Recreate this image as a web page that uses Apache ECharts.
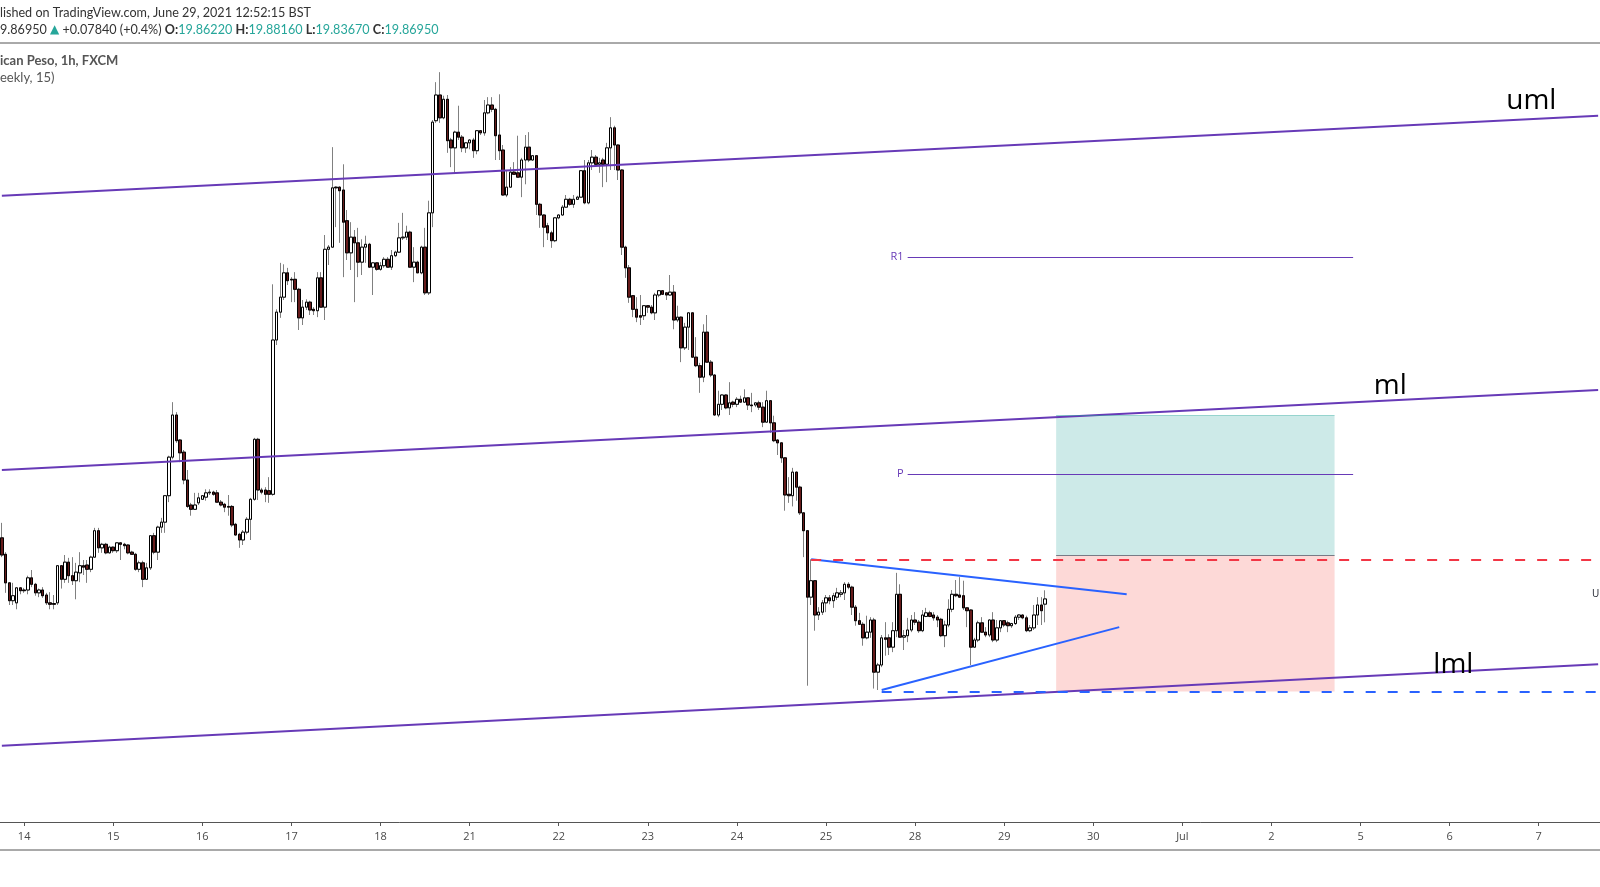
<!DOCTYPE html>
<html>
<head>
<meta charset="utf-8">
<title>USD/MXN 1h</title>
<script src="https://cdn.jsdelivr.net/npm/echarts@6/dist/echarts.min.js"></script>
<style>
  html, body { margin: 0; padding: 0; background: #fff; }
  #main { width: 1600px; height: 887px; }
</style>
</head>
<body>
<div id="main"></div>
<script>
// hourly candles, one per slot from slot 0: [open, close, low, high]
var candles = [
  [19.955,19.931,19.928,19.976],[19.932,19.892,19.878,19.935],[19.892,19.867,19.861,19.893],[19.867,19.874,19.861,19.892],
  [19.864,19.885,19.855,19.886],[19.885,19.881,19.876,19.886],[19.882,19.881,19.878,19.885],[19.882,19.899,19.876,19.902],
  [19.899,19.890,19.886,19.910],[19.890,19.878,19.874,19.892],[19.878,19.882,19.872,19.884],[19.882,19.874,19.871,19.886],
  [19.875,19.864,19.861,19.878],[19.864,19.862,19.855,19.879],[19.863,19.862,19.855,19.875],[19.864,19.916,19.861,19.917],
  [19.916,19.897,19.884,19.917],[19.897,19.921,19.892,19.931],[19.921,19.902,19.892,19.927],[19.902,19.895,19.889,19.928],
  [19.895,19.907,19.869,19.920],[19.906,19.916,19.893,19.935],[19.916,19.914,19.903,19.924],[19.917,19.911,19.892,19.924],
  [19.911,19.928,19.907,19.930],[19.928,19.965,19.927,19.969],[19.965,19.941,19.934,19.969],[19.941,19.946,19.934,19.948],
  [19.946,19.934,19.932,19.948],[19.934,19.942,19.933,19.944],[19.942,19.937,19.934,19.943],[19.937,19.948,19.934,19.949],
  [19.948,19.946,19.924,19.949],[19.946,19.944,19.939,19.948],[19.945,19.934,19.932,19.946],[19.935,19.932,19.931,19.937],
  [19.932,19.911,19.909,19.934],[19.911,19.920,19.907,19.923],[19.920,19.897,19.886,19.923],[19.897,19.913,19.896,19.920],
  [19.913,19.958,19.910,19.959],[19.958,19.935,19.932,19.962],[19.935,19.970,19.924,19.972],[19.970,19.977,19.962,19.983],
  [19.977,20.014,19.962,20.015],[20.014,20.068,20.005,20.070],[20.068,20.127,20.065,20.145],[20.127,20.091,20.088,20.131],
  [20.092,20.074,20.061,20.093],[20.075,20.036,20.030,20.078],[20.036,19.999,19.997,20.050],[20.001,19.995,19.986,20.004],
  [19.995,20.001,19.994,20.018],[20.004,20.011,20.001,20.018],[20.009,20.014,20.008,20.015],[20.012,20.018,20.007,20.023],
  [20.018,20.019,20.015,20.023],[20.019,20.016,20.014,20.021],[20.018,20.005,20.004,20.022],[20.005,20.001,19.999,20.008],
  [20.002,19.998,19.991,20.004],[19.999,19.998,19.986,20.015],[19.999,19.973,19.970,20.001],[19.974,19.959,19.958,19.976],
  [19.960,19.952,19.941,19.962],[19.952,19.963,19.945,19.966],[19.963,19.981,19.960,19.984],[19.981,20.009,19.952,20.011],
  [20.009,20.093,20.007,20.095],[20.093,20.022,20.008,20.095],[20.022,20.019,20.016,20.025],[20.022,20.016,20.005,20.026],
  [20.021,20.016,20.004,20.040],[20.016,20.232,20.014,20.310],[20.232,20.271,20.225,20.275],[20.271,20.292,20.263,20.340],
  [20.292,20.326,20.288,20.338],[20.326,20.315,20.309,20.333],[20.317,20.316,20.285,20.320],[20.317,20.303,20.285,20.327],
  [20.303,20.263,20.246,20.305],[20.263,20.278,20.253,20.288],[20.278,20.285,20.274,20.289],[20.285,20.274,20.267,20.287],
  [20.275,20.273,20.267,20.278],[20.273,20.319,20.264,20.327],[20.319,20.278,20.277,20.327],[20.278,20.359,20.260,20.379],
  [20.359,20.362,20.337,20.365],[20.362,20.445,20.361,20.502],[20.446,20.445,20.390,20.447],[20.446,20.441,20.368,20.447],
  [20.442,20.397,20.320,20.478],[20.399,20.354,20.344,20.414],[20.354,20.376,20.330,20.397],[20.376,20.368,20.285,20.386],
  [20.368,20.341,20.320,20.389],[20.341,20.362,20.323,20.373],[20.362,20.366,20.340,20.378],[20.366,20.334,20.333,20.368],
  [20.334,20.340,20.295,20.341],[20.340,20.331,20.329,20.341],[20.331,20.336,20.329,20.341],[20.336,20.345,20.333,20.348],
  [20.345,20.334,20.333,20.348],[20.334,20.350,20.330,20.358],[20.350,20.355,20.348,20.357],[20.355,20.375,20.354,20.396],
  [20.375,20.376,20.372,20.410],[20.376,20.383,20.372,20.392],[20.383,20.334,20.333,20.385],[20.334,20.341,20.313,20.362],
  [20.341,20.326,20.326,20.343],[20.326,20.362,20.324,20.364],[20.362,20.298,20.295,20.389],[20.298,20.410,20.295,20.427],
  [20.410,20.537,20.390,20.540],[20.539,20.575,20.536,20.593],[20.575,20.543,20.536,20.607],[20.543,20.569,20.541,20.574],
  [20.569,20.511,20.494,20.575],[20.512,20.501,20.474,20.515],[20.501,20.523,20.466,20.525],[20.523,20.516,20.512,20.560],
  [20.516,20.501,20.495,20.519],[20.501,20.508,20.494,20.509],[20.508,20.512,20.499,20.513],[20.512,20.497,20.487,20.515],
  [20.497,20.525,20.492,20.526],[20.525,20.522,20.519,20.526],[20.522,20.550,20.518,20.568],[20.550,20.561,20.548,20.572],
  [20.561,20.555,20.551,20.572],[20.555,20.518,20.484,20.557],[20.519,20.497,20.484,20.576],[20.498,20.435,20.434,20.505],
  [20.435,20.446,20.432,20.470],[20.446,20.467,20.445,20.474],[20.467,20.464,20.463,20.481],[20.466,20.460,20.459,20.518],
  [20.460,20.484,20.432,20.487],[20.484,20.502,20.450,20.519],[20.502,20.484,20.481,20.523],[20.484,20.490,20.483,20.491],
  [20.490,20.422,20.407,20.491],[20.422,20.407,20.389,20.424],[20.407,20.390,20.362,20.408],[20.392,20.382,20.372,20.396],
  [20.382,20.371,20.361,20.385],[20.371,20.403,20.369,20.404],[20.403,20.407,20.401,20.408],[20.407,20.418,20.406,20.421],
  [20.418,20.429,20.417,20.435],[20.429,20.422,20.420,20.431],[20.422,20.429,20.417,20.435],[20.429,20.432,20.428,20.434],
  [20.432,20.469,20.431,20.470],[20.469,20.424,20.422,20.484],[20.424,20.480,20.422,20.484],[20.480,20.488,20.470,20.498],
  [20.488,20.478,20.477,20.491],[20.478,20.480,20.466,20.487],[20.484,20.478,20.446,20.487],[20.478,20.501,20.453,20.508],
  [20.501,20.529,20.470,20.544],[20.529,20.505,20.470,20.532],[20.505,20.470,20.456,20.506],[20.470,20.362,20.351,20.471],
  [20.362,20.333,20.319,20.364],[20.333,20.292,20.284,20.337],[20.294,20.275,20.264,20.295],[20.275,20.264,20.257,20.292],
  [20.266,20.264,20.253,20.295],[20.266,20.280,20.260,20.281],[20.280,20.278,20.270,20.281],[20.278,20.270,20.268,20.281],
  [20.270,20.295,20.260,20.298],[20.295,20.301,20.292,20.302],[20.301,20.296,20.295,20.302],[20.298,20.295,20.288,20.299],
  [20.295,20.299,20.294,20.323],[20.299,20.260,20.247,20.309],[20.260,20.264,20.257,20.280],[20.264,20.221,20.201,20.265],
  [20.221,20.250,20.218,20.256],[20.250,20.270,20.218,20.271],[20.270,20.208,20.207,20.271],[20.208,20.196,20.194,20.236],
  [20.196,20.180,20.158,20.200],[20.180,20.243,20.173,20.254],[20.243,20.201,20.200,20.267],[20.201,20.183,20.180,20.204],
  [20.183,20.127,20.126,20.184],[20.127,20.142,20.124,20.161],[20.142,20.155,20.134,20.156],[20.155,20.137,20.135,20.156],
  [20.137,20.144,20.127,20.173],[20.145,20.142,20.138,20.147],[20.142,20.149,20.138,20.152],[20.149,20.145,20.144,20.154],
  [20.145,20.151,20.144,20.163],[20.151,20.141,20.134,20.152],[20.141,20.140,20.131,20.158],[20.141,20.144,20.138,20.145],
  [20.144,20.138,20.134,20.147],[20.138,20.117,20.110,20.145],[20.117,20.147,20.116,20.161],[20.147,20.116,20.102,20.148],
  [20.116,20.091,20.089,20.126],[20.092,20.088,20.071,20.093],[20.088,20.067,20.060,20.089],[20.067,20.015,19.993,20.068],
  [20.016,20.014,20.004,20.040],[20.014,20.047,19.999,20.053],[20.047,20.026,20.007,20.048],[20.026,19.990,19.987,20.028],
  [19.990,19.965,19.928,19.991],[19.965,19.872,19.748,19.966],[19.872,19.895,19.861,19.925],[19.895,19.847,19.825,19.896],
  [19.847,19.851,19.840,19.858],[19.851,19.864,19.847,19.868],[19.864,19.871,19.851,19.875],[19.871,19.867,19.862,19.875],
  [19.867,19.874,19.857,19.878],[19.872,19.878,19.868,19.885],[19.876,19.878,19.872,19.882],[19.878,19.890,19.868,19.893],
  [19.890,19.886,19.883,19.893],[19.886,19.858,19.847,19.888],[19.858,19.839,19.832,19.861],[19.839,19.834,19.833,19.850],
  [19.834,19.815,19.804,19.837],[19.815,19.823,19.813,19.846],[19.823,19.840,19.815,19.844],[19.840,19.767,19.744,19.843],
  [19.767,19.777,19.742,19.780],[19.777,19.815,19.774,19.819],[19.815,19.813,19.790,19.837],[19.815,19.802,19.791,19.820],
  [19.802,19.825,19.795,19.837],[19.825,19.876,19.816,19.906],[19.876,19.816,19.815,19.890],[19.816,19.818,19.798,19.826],
  [19.818,19.826,19.809,19.843],[19.826,19.840,19.823,19.847],[19.840,19.837,19.833,19.851],[19.837,19.825,19.822,19.840],
  [19.825,19.847,19.823,19.854],[19.845,19.850,19.844,19.857],[19.850,19.845,19.844,19.853],[19.847,19.843,19.839,19.851],
  [19.844,19.840,19.830,19.847],[19.841,19.818,19.816,19.843],[19.818,19.833,19.802,19.839],[19.833,19.855,19.830,19.869],
  [19.855,19.876,19.851,19.882],[19.876,19.874,19.872,19.896],[19.875,19.872,19.871,19.900],[19.874,19.857,19.854,19.895],
  [19.857,19.853,19.830,19.858],[19.854,19.802,19.777,19.855],[19.802,19.812,19.801,19.815],[19.812,19.836,19.809,19.839],
  [19.836,19.823,19.822,19.844],[19.823,19.819,19.816,19.830],[19.819,19.840,19.816,19.841],[19.840,19.812,19.809,19.851],
  [19.812,19.829,19.809,19.840],[19.829,19.839,19.823,19.840],[19.839,19.833,19.830,19.840],[19.836,19.832,19.823,19.839],
  [19.832,19.835,19.829,19.836],[19.835,19.844,19.833,19.847],[19.844,19.847,19.840,19.848],[19.847,19.843,19.841,19.848],
  [19.843,19.825,19.823,19.846],[19.825,19.829,19.823,19.833],[19.829,19.847,19.826,19.861],[19.847,19.861,19.833,19.872],
  [19.861,19.853,19.833,19.872],[19.8622,19.8695,19.8367,19.8816]
];

// time axis: 24 hourly slots per trading day, first day starts at slot 6
var dayLabels = ['14','15','16','17','18','21','22','23','24','25','28','29','30','Jul','2','5','6','7'];
var firstDaySlot = 6;
var barsPerDay = 24;
var slotCount = 431;

// parallel channel, price at slot 0 and at the last slot
var channelNames = ['uml', 'ml', 'lml'];
var channelStart = [20.434, 20.050, 19.664];
var channelEnd = [20.546, 20.162, 19.778];

// weekly pivot points (Traditional)
var pivotNames = ['R1', 'P'];
var pivotValues = [20.348, 20.044];
var pivotSlots = [244, 364];

// triangle: [slot, price] at both ends
var triangleUpper = [[218, 19.925], [303, 19.876]];
var triangleLower = [[237, 19.742], [301, 19.830]];

// horizontal levels
var resistanceLevel = 19.925;
var supportLevel = 19.740;

// long position tool
var positionSlots = [284, 359];
var positionTarget = 20.126;
var positionEntry = 19.930;
var positionStop = 19.740;

var categories = [];
for (var i = 0; i < slotCount; i++) categories.push(String(i));

var bodies = candles.map(function (d) {
  return [d[0], d[1], Math.min(d[0], d[1]), Math.max(d[0], d[1])];
});

function isDayStart(index) {
  return index >= firstDaySlot && (index - firstDaySlot) % barsPerDay === 0;
}

var lastSlot = slotCount - 1;
var purple = '#673ab7';
var blue = '#2962ff';
var red = '#f23645';

var lines = [];
channelNames.forEach(function (name, k) {
  lines.push([
    { coord: [0, channelStart[k]], lineStyle: { color: purple, width: 2, type: 'solid' } },
    { coord: [lastSlot, channelEnd[k]] }
  ]);
});
pivotNames.forEach(function (name, k) {
  lines.push([
    { coord: [pivotSlots[0], pivotValues[k]], lineStyle: { color: purple, width: 1, type: 'solid' },
      label: { show: true, position: 'start', formatter: name, color: purple, fontSize: 11, distance: 4,
               fontFamily: 'Open Sans' } },
    { coord: [pivotSlots[1], pivotValues[k]] }
  ]);
});
lines.push([
  { coord: triangleUpper[0], lineStyle: { color: blue, width: 2, type: 'solid' } },
  { coord: triangleUpper[1] }
]);
lines.push([
  { coord: triangleLower[0], lineStyle: { color: blue, width: 2, type: 'solid' } },
  { coord: triangleLower[1] }
]);
lines.push([
  { coord: [triangleUpper[0][0], resistanceLevel], lineStyle: { color: red, width: 2, type: [10, 12] } },
  { coord: [lastSlot, resistanceLevel] }
]);
lines.push([
  { coord: [triangleLower[0][0], supportLevel], lineStyle: { color: blue, width: 2, type: [10, 12] } },
  { coord: [lastSlot, supportLevel] }
]);
lines.push([
  { coord: [positionSlots[0], positionEntry], lineStyle: { color: '#787b86', width: 1, type: 'solid' } },
  { coord: [positionSlots[1], positionEntry] }
]);
lines.push([
  { coord: [positionSlots[0], positionTarget], lineStyle: { color: 'rgba(38,166,154,0.45)', width: 1, type: 'solid' } },
  { coord: [positionSlots[1], positionTarget] }
]);

// channel labels sit just above their line
var labelSlots = [412, 374, 391];
var labelOffsets = [-18, -14, -7];
var channelLabels = channelNames.map(function (name, k) {
  var price = channelStart[k] + (channelEnd[k] - channelStart[k]) * labelSlots[k] / lastSlot;
  return {
    coord: [labelSlots[k], price],
    label: { formatter: name, offset: [0, labelOffsets[k]] }
  };
});

var chart = echarts.init(document.getElementById('main'));
var option = {
  animation: false,
  backgroundColor: '#ffffff',
  grid: { left: 0, right: 0, top: 43, bottom: 65 },
  xAxis: {
    type: 'category',
    data: categories,
    boundaryGap: true,
    axisLine: { lineStyle: { color: '#555', width: 1 } },
    axisTick: { show: true, interval: isDayStart, alignWithLabel: true, length: 4,
                lineStyle: { color: '#555' } },
    axisLabel: {
      interval: isDayStart,
      color: '#4a4a4a',
      fontSize: 11,
      fontFamily: 'Open Sans',
      margin: 9,
      formatter: function (value, index) {
        return dayLabels[(index - firstDaySlot) / barsPerDay] || '';
      }
    },
    splitLine: { show: false }
  },
  yAxis: {
    type: 'value',
    min: 19.5572,
    max: 20.6478,
    show: false,
    splitLine: { show: false }
  },
  series: [
    {
      // wicks
      type: 'candlestick',
      data: candles,
      barWidth: 3,
      z: 2,
      itemStyle: {
        color: '#ffffff', color0: '#661b1b',
        borderColor: '#808080', borderColor0: '#808080', borderWidth: 1
      }
    },
    {
      // bodies
      type: 'candlestick',
      data: bodies,
      barWidth: 3,
      z: 3,
      itemStyle: {
        color: '#ffffff', color0: '#661b1b',
        borderColor: '#000000', borderColor0: '#000000', borderWidth: 1
      },
      markArea: {
        silent: true,
        data: [
          [{ coord: [positionSlots[0], positionTarget],
             itemStyle: { color: 'rgba(38,166,154,0.23)', borderWidth: 0 } },
           { coord: [positionSlots[1], positionEntry] }],
          [{ coord: [positionSlots[0], positionEntry],
             itemStyle: { color: 'rgba(244,67,54,0.2)', borderWidth: 0 } },
           { coord: [positionSlots[1], positionStop] }]
        ]
      },
      markLine: {
        silent: true,
        symbol: ['none', 'none'],
        label: { show: false },
        data: lines
      },
      markPoint: {
        silent: true,
        symbol: 'circle',
        symbolSize: 0,
        label: { show: true, position: 'inside', color: '#000', fontSize: 28, fontFamily: 'Open Sans' },
        data: channelLabels
      }
    }
  ],
  graphic: [
    { type: 'text', x: 0, y: 13, style: { text: 'lished on TradingView.com, June 29, 2021 12:52:15 BST',
      font: '12.6px Lato', fill: '#333', verticalAlign: 'middle' } },
    { type: 'text', x: 0, y: 30, style: {
      text: '{a|9.86950 }{t|\u25B2}{a| +0.07840 (+0.4%) }{b|O:}{v|19.86220 }{b|H:}{v|19.88160 }{b|L:}{v|19.83670 }{b|C:}{v|19.86950}',
      verticalAlign: 'middle',
      rich: {
        a: { font: '12.6px Lato', fill: '#333' },
        t: { font: '12px "DejaVu Sans"', fill: '#26a69a' },
        b: { font: 'bold 12.6px Lato', fill: '#333' },
        v: { font: '12.6px Lato', fill: '#26a69a' }
      } } },
    { type: 'line', shape: { x1: 0, y1: 43, x2: 1600, y2: 43 }, style: { stroke: '#555', lineWidth: 1 } },
    { type: 'text', x: 0, y: 61, style: { text: 'ican Peso, 1h, FXCM', font: 'bold 13px Lato',
      fill: '#555', verticalAlign: 'middle' } },
    { type: 'text', x: 0, y: 78, style: { text: 'eekly, 15)', font: '13px Lato',
      fill: '#555', verticalAlign: 'middle' } },
    { type: 'text', x: 1592, y: 594, style: { text: 'U', font: '10px "Open Sans"',
      fill: '#131722', verticalAlign: 'middle' } },
    { type: 'line', shape: { x1: 0, y1: 850, x2: 1600, y2: 850 }, style: { stroke: '#555', lineWidth: 1 } }
  ]
};
chart.setOption(option);
</script>
</body>
</html>
